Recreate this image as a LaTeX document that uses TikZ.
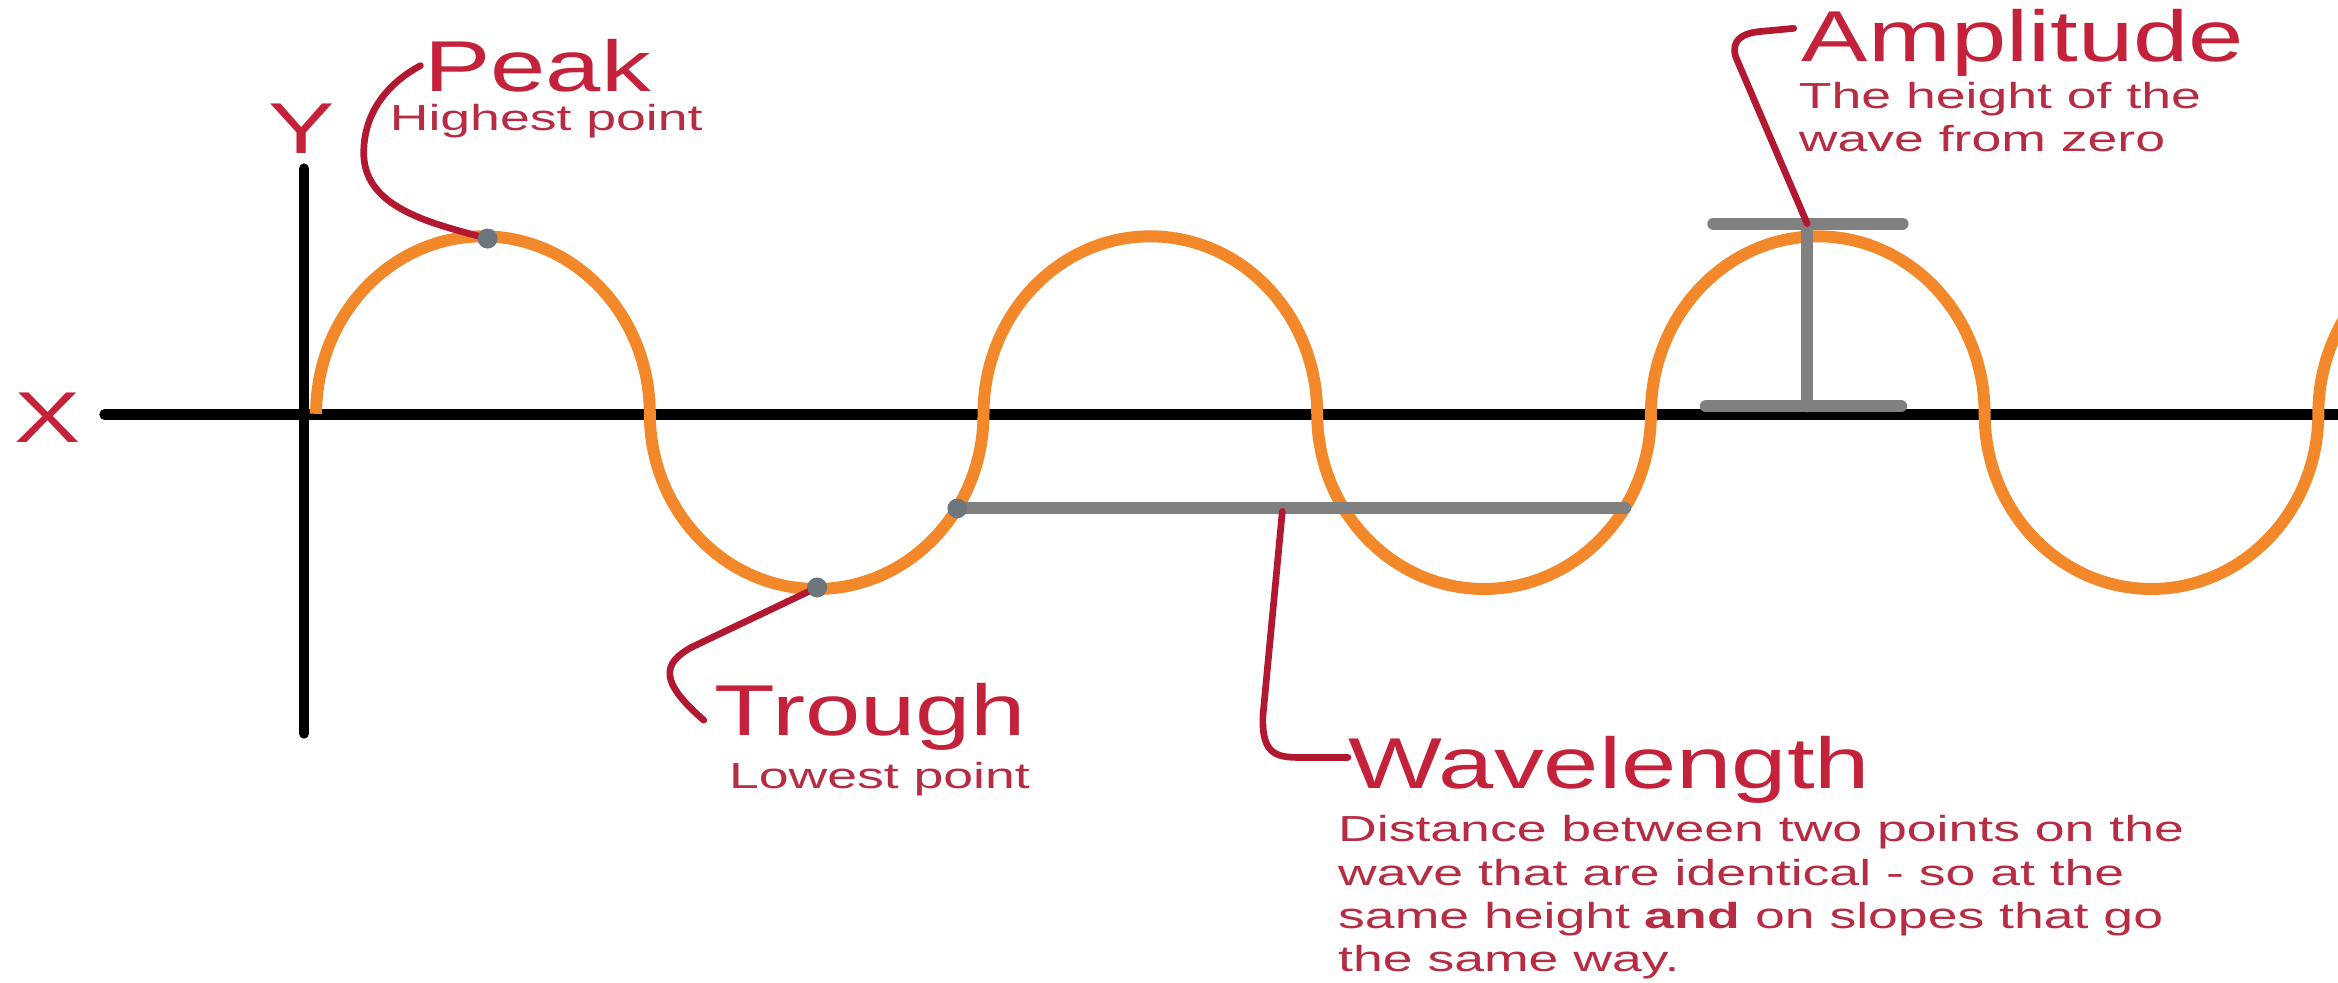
\documentclass[tikz,border=0pt]{standalone}
\usepackage{fontspec}
\setmainfont{Liberation Sans}
\usepackage{graphicx}
\definecolor{headred}{RGB}{196,33,58}
\definecolor{smallred}{RGB}{182,44,66}
\definecolor{leadred}{RGB}{178,24,48}
\definecolor{waveorange}{RGB}{242,136,42}
\definecolor{bargray}{RGB}{128,128,128}
\definecolor{dotgray}{RGB}{108,118,124}
\newcommand{\headtxt}[1]{\scalebox{1.38}[1]{\fontsize{20.5}{24}\selectfont #1}}
\newcommand{\desctxt}[1]{\scalebox{1.48}[1]{\fontsize{10.3}{12.3}\selectfont\begin{tabular}[t]{@{}l@{}}#1\end{tabular}}}
\tikzset{
  axisline/.style={line width=2.9pt, line cap=round, black},
  wavecurve/.style={line width=3.4pt, waveorange},
  graybar/.style={line width=3.4pt, bargray, line cap=round},
  leader/.style={line width=1.9pt, leadred, line cap=round, line join=round},
  headlbl/.style={text=headred, inner sep=0pt, anchor=base west},
  desclbl/.style={text=smallred, inner sep=0pt, anchor=base west},
  graydot/.style={circle, fill=dotgray, inner sep=0pt, minimum size=5.6pt},
  crest/.style={start angle=180, end angle=360, x radius=111.9, y radius=119},
  hollow/.style={start angle=180, end angle=0, x radius=111.9, y radius=117.5}
}
\begin{document}
\begin{tikzpicture}[x=0.149107mm, y=-0.149107mm]
\fill[white] (0,0) rectangle (1568,658.6);
\useasboundingbox (0,0) rectangle (1568,658.6);

% axes
\coordinate (xl) at (70,278);
\coordinate (xr) at (1575,278);
\coordinate (yt) at (204,113);
\coordinate (yb) at (204,492);
\coordinate (w0) at (212,277.5);
\begin{scope}
\clip (0,0) rectangle (1568,658.6);
\draw[axisline] (xl) -- (xr);
\draw[axisline] (yt) -- (yb);
% wave
\draw[wavecurve] (w0) arc[crest] arc[hollow] arc[crest] arc[hollow]
  arc[crest] arc[hollow] arc[start angle=180, end angle=250, x radius=111.9, y radius=119];
\end{scope}

% amplitude I-beam
\coordinate (at1) at (1149,150);
\coordinate (at2) at (1276,150);
\coordinate (atm) at (1212,150);
\coordinate (ab1) at (1144,272.5);
\coordinate (ab2) at (1275,272.5);
\coordinate (abm) at (1212,272.5);
\draw[graybar] (atm) -- (abm);
\draw[graybar] (at1) -- (at2);
\draw[graybar] (ab1) -- (ab2);

% wavelength bar
\coordinate (wl1) at (642,341);
\coordinate (wl2) at (1090,341);
\coordinate (wlb) at (860,343);
\draw[graybar] (wl1) -- (wl2);

% labels
\node[headlbl] (xlab) at (9,297) {\headtxt{X}};
\node[headlbl, anchor=base] (ylab) at (202,103) {\headtxt{Y}};
\node[headlbl] (peak) at (284,61.5) {\headtxt{Peak}};
\node[desclbl] (peakd) at (261,87.5) {\desctxt{Highest point}};
\node[headlbl] (trough) at (479,493) {\headtxt{Trough}};
\node[desclbl] (troughd) at (488.5,529) {\desctxt{Lowest point}};
\node[headlbl] (wl) at (904,528.5) {\headtxt{Wavelength}};
\node[desclbl] (wld) at (897,564.6) {\desctxt{Distance between two points on the\\wave that are identical - so at the\\same height \textbf{and} on slopes that go\\the same way.}};
\node[headlbl] (amp) at (1208,41.4) {\headtxt{Amplitude}};
\node[desclbl] (ampd) at (1206,72.6) {\desctxt{The height of the\\wave from zero}};

% dots
\node[graydot] (pdot) at (327,160) {};
\node[graydot] (tdot) at (548,394) {};
\node[graydot] (wdot) at (642,341) {};

% leader ends
\coordinate (pk0) at (282,44);
\coordinate (tr0) at (472,483);
\coordinate (wl0) at (904,508);
\coordinate (amp0) at (1203,19);

% leaders
\draw[leader] (pk0) .. controls (256,58) and (243,80) .. (244,105)
  .. controls (246,140) and (290,150) .. (pdot.center);
\draw[leader] (tdot.center) -- (464,434) .. controls (444,445) and (442,457) .. (tr0);
\draw[leader] (wlb) -- (847,480) .. controls (846,506) and (856,508) .. (872,508) -- (wl0);
\draw[leader] (atm) -- (1164,38) .. controls (1161,27) and (1168,22) .. (1182,21) -- (amp0);

% dots on top of leaders
\fill[dotgray] (pdot) circle (2.8pt);
\fill[dotgray] (tdot) circle (2.8pt);
\end{tikzpicture}
\end{document}
